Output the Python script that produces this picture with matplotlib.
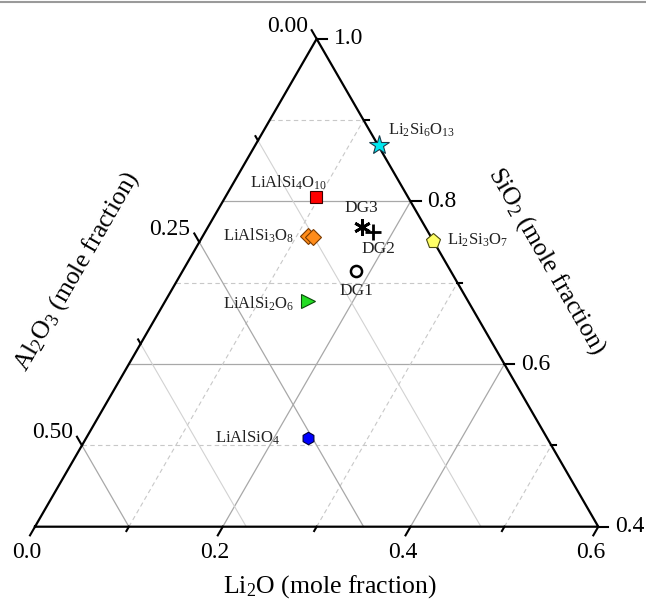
import numpy as np
import matplotlib
matplotlib.use("Agg")
import matplotlib.pyplot as plt
from matplotlib.lines import Line2D

plt.rcParams['font.family'] = ['Liberation Serif', 'DejaVu Serif']
plt.rcParams['mathtext.fontset'] = 'custom'
plt.rcParams['mathtext.rm'] = 'Liberation Serif'
plt.rcParams['mathtext.it'] = 'Liberation Serif:italic'

# кристаллические фазы: мольные доли Li2O и SiO2 (Al2O3 = остаток)
phase_names = ['Li2Si6O13', 'LiAlSi4O10', 'LiAlSi3O8', 'LiAlSi3O8',
               'LiAlSi2O6', 'Li2Si3O7', 'LiAlSiO4']
phase_li2o = [0.131, 0.097, 0.112, 0.118, 0.152, 0.248, 0.236]
phase_sio2 = [0.870, 0.805, 0.758, 0.756, 0.677, 0.752, 0.509]

# стёкла DG
glass_names = ['DG1', 'DG2', 'DG3']
glass_li2o = [0.184, 0.179, 0.164]
glass_sio2 = [0.715, 0.763, 0.768]

li_major = [0.0, 0.2, 0.4, 0.6]
li_minor = [0.1, 0.3, 0.5]
si_major = [0.4, 0.6, 0.8, 1.0]
si_minor = [0.5, 0.7, 0.9]
al_major = [0.00, 0.25, 0.50]
al_minor = [0.125, 0.375]

SPAN = 0.6
H = np.sqrt(3) / 2


def tern(li, si):
    a = np.asarray(li) / SPAN
    t = (np.asarray(si) - 0.4) / SPAN
    return a + 0.5 * t, H * t


fig = plt.figure(figsize=(6.46, 6.05), dpi=100)
ax = fig.add_axes([0, 0, 1, 1])
px = 1 / 563.3
ax.set_xlim(-35 * px, 611 * px)
ax.set_ylim(-78.3 * px, 526.7 * px)
ax.axis('off')

fig.add_artist(Line2D([0, 1], [0.997, 0.997], transform=fig.transFigure,
                      color='#9a9a9a', lw=1.5))

major_kw = dict(color='#a8a8a8', lw=0.9, zorder=1)
dash_kw = dict(color='#c8c8c8', lw=0.8, ls=(0, (4, 3)), zorder=1)
light_kw = dict(color='#d2d2d2', lw=0.8, zorder=1)

# сетка
for c in si_major[1:-1] + si_minor:
    x, y = tern([0, 1 - c], [c, c])
    ax.plot(x, y, **(major_kw if c in si_major else dash_kw))
for c in li_major[1:-1] + li_minor:
    x, y = tern([c, c], [0.4, 1 - c])
    ax.plot(x, y, **(major_kw if c in li_major else dash_kw))
for c in al_major[1:] + al_minor:
    x, y = tern([0, 0.6 - c], [1 - c, 0.4])
    ax.plot(x, y, **(major_kw if c in al_major else light_kw))

# рамка
x, y = tern([0, 0.6, 0, 0], [0.4, 0.4, 1.0, 0.4])
ax.plot(x, y, color='black', lw=1.6, zorder=3, solid_joinstyle='miter')

L = 10 * px
Lm = 5 * px
tick_fs = 17
for v in li_major + li_minor:
    x0, y0 = tern(v, 0.4)
    ln = L if v in li_major else Lm
    ax.plot([x0, x0 - 0.5 * ln], [y0, y0 - H * ln], color='black', lw=1.5, zorder=3)
    if v in li_major:
        ax.text(x0 - 8 * px, y0 - 26 * px, f'{v:.1f}', ha='center', va='center',
                fontsize=tick_fs)
for v in si_major + si_minor:
    x0, y0 = tern(1 - v, v)
    ln = L if v in si_major else Lm
    ax.plot([x0, x0 + ln], [y0, y0], color='black', lw=1.5, zorder=3)
    if v in si_major:
        ax.text(x0 + 17 * px, y0, f'{v:.1f}', ha='left', va='center',
                fontsize=tick_fs)
for v in al_major + al_minor:
    x0, y0 = tern(0, 1 - v)
    ln = L if v in al_major else Lm
    xe, ye = x0 - 0.5 * ln, y0 + H * ln
    ax.plot([x0, xe], [y0, ye], color='black', lw=1.5, zorder=3)
    if v in al_major:
        ax.text(xe - 4 * px, ye + 4 * px, f'{v:.2f}', ha='right', va='center',
                fontsize=tick_fs)

# подписи осей
ax.text(295 * px, -60.3 * px, r'Li$_2$O (mole fraction)', ha='center',
        va='center', fontsize=18.5)
ax.text(41.7 * px, 255 * px, r'Al$_2$O$_3$ (mole fraction)', ha='center',
        va='center', fontsize=18.5, rotation=60, rotation_mode='anchor')
ax.text(511.7 * px, 265 * px, r'SiO$_2$ (mole fraction)', ha='center',
        va='center', fontsize=18.5, rotation=-60, rotation_mode='anchor')

# маркеры фаз
phase_style = [
    dict(marker='*', ms=15, mfc='#00e8f0', mec='#1a3a4a', mew=0.8),
    dict(marker='s', ms=8.5, mfc='#ff0000', mec='#3a0000', mew=0.8),
    dict(marker='D', ms=8, mfc='#ff8c1a', mec='#7a3a00', mew=0.8),
    dict(marker='D', ms=8, mfc='#ff8c1a', mec='#7a3a00', mew=0.8),
    dict(marker='>', ms=9.5, mfc='#22dd22', mec='#0a4a0a', mew=0.8),
    dict(marker='p', ms=11, mfc='#ffff66', mec='#4a4a10', mew=0.8),
    dict(marker='h', ms=9, mfc='#0000ff', mec='#00003a', mew=0.8),
]
phase_offsets = [((7, 10), 'left'), ((-20, 10.5), 'center'), ((-10, 0), 'right'),
                 None, ((-10, -1.5), 'right'), ((10, 0), 'left'),
                 ((-20, 0.5), 'right')]
for name, li, si, st, off in zip(phase_names, phase_li2o, phase_sio2,
                                 phase_style, phase_offsets):
    x0, y0 = tern(li, si)
    ax.plot(x0, y0, ls='none', zorder=4, **st)
    if off is None:
        continue
    label = ''.join(f'$_{{{ch}}}$' if ch.isdigit() else ch for ch in name)
    label = label.replace('}$$_{', '')
    ax.annotate(label, (x0, y0), xytext=off[0], textcoords='offset points',
                ha=off[1], va='center', fontsize=12, color='#222222')

glass_style = [
    dict(marker='o', ms=8, mfc='white', mec='black', mew=1.8),
    dict(marker='+', ms=11, mec='black', mew=2),
    dict(marker=(6, 2, 0), ms=12, mec='black', mew=2),
]
glass_offsets = [(0.4, -15), (3.6, -12.5), (0, 13.7)]
for name, li, si, st, off in zip(glass_names, glass_li2o, glass_sio2,
                                 glass_style, glass_offsets):
    x0, y0 = tern(li, si)
    ax.plot(x0, y0, ls='none', zorder=5, **st)
    ax.annotate(name, (x0, y0), xytext=off, textcoords='offset points',
                ha='center', va='center', fontsize=12.5, color='#222222')

fig.savefig('out.png', dpi=100)
